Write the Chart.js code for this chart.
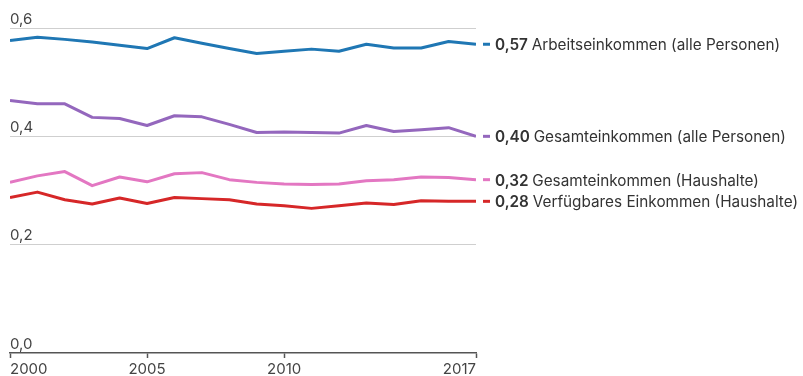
<!DOCTYPE html>
<html>
<head>
<meta charset="utf-8">
<script src="https://cdn.jsdelivr.net/npm/chart.js@4/dist/chart.umd.min.js"></script>
<style>
  html, body { margin: 0; padding: 0; background: #fff; }
  #wrap { width: 803px; height: 376px; position: relative; }
</style>
</head>
<body>
<div id="wrap"><canvas id="chart"></canvas></div>
<script>
// Gini-Koeffizienten 2000–2017
const years = [2000, 2001, 2002, 2003, 2004, 2005, 2006, 2007, 2008, 2009, 2010, 2011, 2012, 2013, 2014, 2015, 2016, 2017];
const arbeitPersonen = [0.577, 0.583, 0.579, 0.574, 0.568, 0.562, 0.582, 0.572, 0.562, 0.553, 0.557, 0.561, 0.557, 0.570, 0.563, 0.563, 0.575, 0.57];
const gesamtPersonen = [0.466, 0.460, 0.460, 0.435, 0.433, 0.420, 0.438, 0.436, 0.422, 0.407, 0.408, 0.407, 0.406, 0.420, 0.409, 0.412, 0.416, 0.40];
const gesamtHaushalte = [0.315, 0.327, 0.335, 0.309, 0.325, 0.316, 0.331, 0.333, 0.320, 0.315, 0.312, 0.311, 0.312, 0.318, 0.320, 0.325, 0.324, 0.32];
const verfuegbarHaushalte = [0.287, 0.297, 0.283, 0.275, 0.286, 0.276, 0.287, 0.285, 0.283, 0.275, 0.272, 0.267, 0.272, 0.277, 0.274, 0.281, 0.280, 0.28];

const seriesNames = ['Arbeitseinkommen (alle Personen)', 'Gesamteinkommen (alle Personen)', 'Gesamteinkommen (Haushalte)', 'Verfügbares Einkommen (Haushalte)'];
const seriesColors = ['#1f77b4', '#9467bd', '#e377c2', '#d62728'];
const xTicks = [2000, 2005, 2010, 2017];
const yTicks = [0, 0.2, 0.4, 0.6];

const FONT = 'Inter, Roboto, sans-serif';

const seriesData = [arbeitPersonen, gesamtPersonen, gesamtHaushalte, verfuegbarHaushalte];
const datasets = seriesData.map((vals, i) => ({
    label: seriesNames[i],
    data: vals.map((v, j) => ({ x: years[j], y: v })),
    borderColor: seriesColors[i],
    borderWidth: 3,
    borderJoinStyle: 'round',
    tension: 0,
    pointRadius: 0
}));

// Labels at the right end of each line: short dash, bold value, name
const endLabels = {
    id: 'endLabels',
    afterDatasetsDraw(chart) {
        const ctx = chart.ctx;
        ctx.save();
        chart.data.datasets.forEach((ds, i) => {
            const meta = chart.getDatasetMeta(i);
            const last = meta.data[meta.data.length - 1];
            const x = last.x;
            const y = last.y;
            ctx.strokeStyle = ds.borderColor;
            ctx.lineWidth = 3;
            ctx.beginPath();
            ctx.moveTo(x + 7, y);
            ctx.lineTo(x + 14, y);
            ctx.stroke();

            const value = ds.data[ds.data.length - 1].y.toFixed(2).replace('.', ',');
            ctx.textBaseline = 'middle';
            ctx.fillStyle = '#333';
            ctx.font = '600 15.3px ' + FONT;
            ctx.fillText(value, x + 19, y + 1.5);
            const w = ctx.measureText(value + ' ').width;
            ctx.font = '15.3px ' + FONT;
            ctx.fillText(ds.label, x + 19 + w, y + 1.5);
        });
        ctx.restore();
    }
};

new Chart(document.getElementById('chart'), {
    type: 'line',
    data: { datasets },
    options: {
        responsive: true,
        maintainAspectRatio: false,
        animation: false,
        layout: { padding: { left: 10, right: 327, top: 28, bottom: 0 } },
        plugins: {
            legend: { display: false },
            tooltip: { enabled: false }
        },
        scales: {
            x: {
                type: 'linear',
                min: 2000,
                max: 2017,
                afterBuildTicks: axis => { axis.ticks = xTicks.map(v => ({ value: v })); },
                afterFit: axis => { axis.height = 23; },
                border: { display: true, color: '#555', width: 1.5 },
                grid: { drawOnChartArea: false, drawTicks: true, tickLength: 5, color: '#555', tickWidth: 1.5 },
                ticks: {
                    align: 'inner',
                    padding: 2,
                    color: '#444',
                    font: { family: FONT, size: 15 },
                    callback: v => String(v)
                }
            },
            y: {
                min: 0,
                max: 0.6,
                afterBuildTicks: axis => { axis.ticks = yTicks.map(v => ({ value: v })); },
                border: { display: false },
                grid: {
                    drawTicks: false,
                    color: ctx => ctx.tick && ctx.tick.value === 0 ? 'rgba(0,0,0,0)' : '#cfcfcf',
                    lineWidth: 1
                },
                ticks: {
                    mirror: true,
                    padding: 0,
                    labelOffset: -9,
                    color: '#444',
                    font: { family: FONT, size: 15 },
                    callback: v => v.toFixed(1).replace('.', ',')
                }
            }
        }
    },
    plugins: [endLabels]
});
</script>
</body>
</html>
